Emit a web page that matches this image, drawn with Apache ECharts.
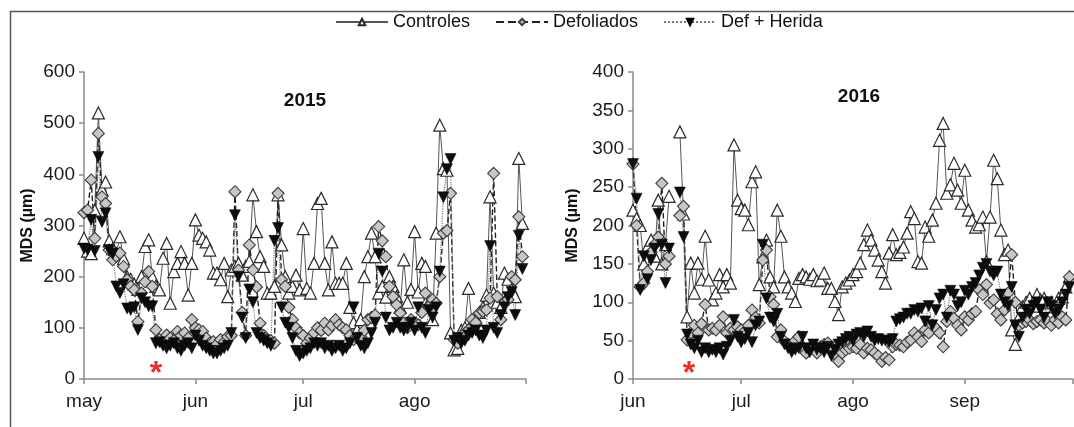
<!DOCTYPE html>
<html>
<head>
<meta charset="utf-8">
<script src="https://cdn.jsdelivr.net/npm/echarts@6/dist/echarts.min.js"></script>
<style>
  html, body { margin: 0; padding: 0; background: #fff; }
  #chart { width: 1074px; height: 427px; }
</style>
</head>
<body>
<div id="chart"></div>
<script>
// 2015: dias desde el 1 de mayo (0..122)
const monthTicks2015 = [0, 31, 61, 92, 123];
const monthLabels2015 = ['may', 'jun', 'jul', 'ago'];
// 2016: dias desde el 1 de junio (0..121)
const monthTicks2016 = [0, 30, 61, 92, 122];
const monthLabels2016 = ['jun', 'jul', 'ago', 'sep'];

const controles2015 = [275, 250, 245, 330, 520, 370, 385, 270, 255, 245, 278, 235, 200, 195, 185, 175, 200, 259, 272, 200,
  181, 174, 236, 265, 148, 210, 226, 249, 226, 164, 226, 311, 281, 275, 268, 252, 207, 207, 194, 226,
  161, 213, 220, 226, 203, 220, 230, 360, 288, 239, 220, 168, 168, 181, 360, 262, 200, 168, 181, 203,
  174, 294, 177, 168, 226, 343, 353, 226, 174, 268, 187, 187, 187, 226, 140, 110, 96, 116, 200, 239,
  285, 239, 168, 181, 160, 200, 181, 161, 140, 233, 150, 175, 288, 170, 226, 220, 150, 116, 285, 496,
  411, 408, 90, 57, 60, 95, 100, 177, 110, 120, 130, 140, 164, 356, 168, 150, 140, 207, 195, 175,
  161, 431, 304];
const defoliados2015 = [325, 330, 389, 275, 480, 356, 343, 252, 233, 240, 246, 220, 194, 181, 174, 112, 168, 190, 210, 181,
  96, 77, 70, 86, 80, 75, 93, 85, 90, 80, 116, 100, 96, 93, 80, 70, 73, 68, 77, 72,
  83, 85, 366, 213, 130, 85, 262, 213, 180, 109, 85, 77, 75, 70, 363, 194, 181, 140, 116, 100,
  90, 85, 70, 80, 90, 100, 95, 109, 96, 105, 116, 106, 100, 96, 85, 77, 80, 83, 95, 116,
  120, 125, 298, 270, 239, 181, 161, 145, 129, 109, 100, 116, 110, 106, 130, 168, 142, 155, 148, 200,
  285, 290, 363, 77, 70, 83, 90, 96, 116, 110, 129, 132, 135, 158, 402, 161, 116, 150, 155, 200,
  194, 317, 239];
const herida2015 = [255, 252, 311, 250, 434, 307, 324, 252, 245, 181, 168, 185, 138, 135, 140, 96, 158, 150, 142, 142,
  70, 72, 65, 60, 65, 70, 60, 55, 65, 70, 60, 85, 75, 65, 60, 55, 50, 50, 55, 60,
  65, 90, 320, 200, 120, 80, 175, 150, 90, 80, 75, 70, 65, 270, 295, 140, 110, 100, 80, 55,
  45, 50, 55, 60, 70, 65, 70, 60, 65, 55, 60, 65, 55, 60, 70, 140, 80, 65, 60, 70,
  90, 110, 245, 210, 120, 95, 100, 110, 100, 95, 100, 110, 95, 140, 100, 90, 135, 120, 140, 210,
  355, 410, 430, 75, 80, 70, 75, 85, 90, 95, 85, 80, 95, 260, 100, 90, 125, 140, 160, 170,
  125, 280, 215];

const controles2016 = [220, 209, 200, 150, 172, 181, 160, 233, 150, 175, 238, null, null, 322, 215, 81, 151, 112, 151, 130,
  186, 129, 103, 112, 136, 120, 136, 125, 305, 233, 222, 220, 201, 257, 270, 123, 159, 181, 133, 120,
  220, 186, 133, 120, 112, 101, 131, 136, 133, 130, 136, 128, 129, 138, 118, 118, 101, 84, 120, 125,
  129, 136, 140, 151, 175, 194, 181, 168, 155, 140, 125, 164, 188, 162, 165, 172, 190, 218, 209, 153,
  151, 198, 186, 207, 229, 311, 333, 242, 253, 281, 246, 229, 272, 220, 207, 198, 201, 211, 153, 211,
  285, 261, 194, 162, 168, 64, 45, 80, 94, 100, 105, 95, 110, 103, 105, 99, 100, 94, 105, 107,
  120, 133];
const defoliados2016 = [280, 200, 120, 125, 140, 165, 175, 185, 255, 150, 160, null, null, 213, 225, 51, 60, 70, 60, 72,
  97, 64, 66, 64, 70, 81, 60, 66, 64, 68, 64, 62, 70, 90, 80, 73, 155, 168, 107, 97,
  55, 64, 49, 45, 42, 50, 55, 42, 34, 40, 42, 34, 42, 45, 47, 40, 32, 23, 34, 38,
  40, 42, 40, 45, 34, 40, 38, 34, 30, 23, 28, 25, 42, 45, 44, 42, 48, 51, 60, 55,
  49, 64, 60, 70, 66, 60, 42, 75, 88, 79, 70, 64, 81, 77, 85, 88, 116, 110, 123, 99,
  103, 85, 77, 90, 112, 162, 100, 70, 73, 75, 77, 72, 75, 77, 73, 75, 70, 77, 73, 81,
  77, 133];
const herida2016 = [280, 235, 116, 160, 130, 155, 170, 215, 175, 125, 170, null, null, 243, 185, 58, 45, 40, 50, 35,
  40, 35, 38, 35, 40, 32, 42, 50, 77, 55, 48, 52, 60, 48, 70, 75, 175, 105, 80, 75,
  85, 55, 45, 40, 35, 38, 40, 55, 40, 35, 45, 38, 40, 35, 42, 30, 38, 45, 48, 52,
  55, 50, 58, 60, 55, 62, 55, 50, 52, 50, 50, 48, 52, 75, 78, 80, 85, 85, 90, 88,
  92, 75, 95, 70, 90, 105, 110, 80, 115, 110, 95, 100, 115, 110, 120, 125, 135, 145, 150, 140,
  135, 140, 110, 100, 95, 120, 70, 55, 80, 90, 85, 95, 100, 90, 80, 100, 95, 85, 90, 100,
  110, 120];

const FONT = '"Liberation Sans", Arial, sans-serif';
const chart = echarts.init(document.getElementById('chart'));

function toPairs(values) {
  return values.map((v, i) => [i, v]);
}

function xAxisFor(gridIndex, ticks, labels) {
  return {
    type: 'value',
    gridIndex: gridIndex,
    min: ticks[0],
    max: ticks[ticks.length - 1],
    splitLine: { show: false },
    axisLine: { lineStyle: { color: '#8a8a8a', width: 1.5 } },
    axisTick: { show: true, length: 5, customValues: ticks, lineStyle: { color: '#8a8a8a', width: 1.5 } },
    axisLabel: {
      customValues: ticks.slice(0, labels.length),
      formatter: v => labels[ticks.indexOf(v)] || '',
      color: '#1a1a22', fontSize: 19, fontFamily: FONT, margin: 13
    }
  };
}

function yAxisFor(gridIndex, max, interval, gap) {
  return {
    type: 'value',
    gridIndex: gridIndex,
    min: 0, max: max, interval: interval,
    splitLine: { show: false },
    axisLine: { show: true, lineStyle: { color: '#8a8a8a', width: 1.5 } },
    axisTick: { show: true, length: 5, lineStyle: { color: '#8a8a8a', width: 1.5 } },
    axisLabel: { color: '#1a1a22', fontSize: 19, fontFamily: FONT, margin: 9 },
    name: 'MDS (µm)',
    nameLocation: 'middle',
    nameRotate: 90,
    nameGap: gap,
    nameTextStyle: { color: '#111', fontSize: 16, fontWeight: 'bold', fontFamily: FONT }
  };
}

const styles = {
  Controles: {
    symbol: 'triangle', symbolSize: 12,
    itemStyle: { color: '#ffffff', borderColor: '#2a2a2a', borderWidth: 1.2 },
    lineStyle: { color: '#555', width: 1 }
  },
  Defoliados: {
    symbol: 'diamond', symbolSize: 12,
    itemStyle: { color: '#c6c6c6', borderColor: '#3a3a3a', borderWidth: 1.1 },
    lineStyle: { color: '#222', width: 1.4, type: 'dashed' }
  },
  'Def + Herida': {
    symbol: 'triangle', symbolSize: 11, symbolRotate: 180,
    itemStyle: { color: '#0d0d0d', borderColor: '#000', borderWidth: 0.5 },
    lineStyle: { color: '#777', width: 1.2, type: 'dotted' }
  }
};

function makeSeries(name, values, idx) {
  return Object.assign({
    name: name,
    type: 'line',
    xAxisIndex: idx,
    yAxisIndex: idx,
    data: toPairs(values),
    connectNulls: false,
    animation: false
  }, styles[name]);
}

chart.setOption({
  backgroundColor: '#fff',
  animation: false,
  legend: {
    top: 8,
    left: 330,
    itemWidth: 52,
    itemHeight: 8,
    itemGap: 25,
    textStyle: { color: '#111', fontSize: 18, fontFamily: FONT },
    data: ['Controles', 'Defoliados', 'Def + Herida']
  },
  grid: [
    { left: 84, top: 72, width: 442, height: 307 },
    { left: 633, top: 72, width: 440, height: 307 }
  ],
  xAxis: [
    xAxisFor(0, monthTicks2015, monthLabels2015),
    xAxisFor(1, monthTicks2016, monthLabels2016)
  ],
  yAxis: [
    yAxisFor(0, 600, 100, 48),
    yAxisFor(1, 400, 50, 52)
  ],
  graphic: [
    { type: 'rect', left: 8, top: 9, shape: { width: 2000, height: 1000 },
      style: { fill: 'none', stroke: '#555', lineWidth: 1.5 }, silent: true, z: -1 },
    { type: 'text', x: 305, y: 101, style: { text: '2015', font: 'bold 19px ' + FONT, fill: '#111', textAlign: 'center', textVerticalAlign: 'middle' } },
    { type: 'text', x: 859, y: 97, style: { text: '2016', font: 'bold 19px ' + FONT, fill: '#111', textAlign: 'center', textVerticalAlign: 'middle' } },
    { type: 'text', x: 156, y: 374, style: { text: '*', font: 'bold 32px ' + FONT, fill: '#e8302a', textAlign: 'center', textVerticalAlign: 'middle' } },
    { type: 'text', x: 689, y: 374, style: { text: '*', font: 'bold 32px ' + FONT, fill: '#e8302a', textAlign: 'center', textVerticalAlign: 'middle' } }
  ],
  series: [
    makeSeries('Controles', controles2015, 0),
    makeSeries('Defoliados', defoliados2015, 0),
    makeSeries('Def + Herida', herida2015, 0),
    makeSeries('Controles', controles2016, 1),
    makeSeries('Defoliados', defoliados2016, 1),
    makeSeries('Def + Herida', herida2016, 1)
  ]
});
</script>
</body>
</html>
